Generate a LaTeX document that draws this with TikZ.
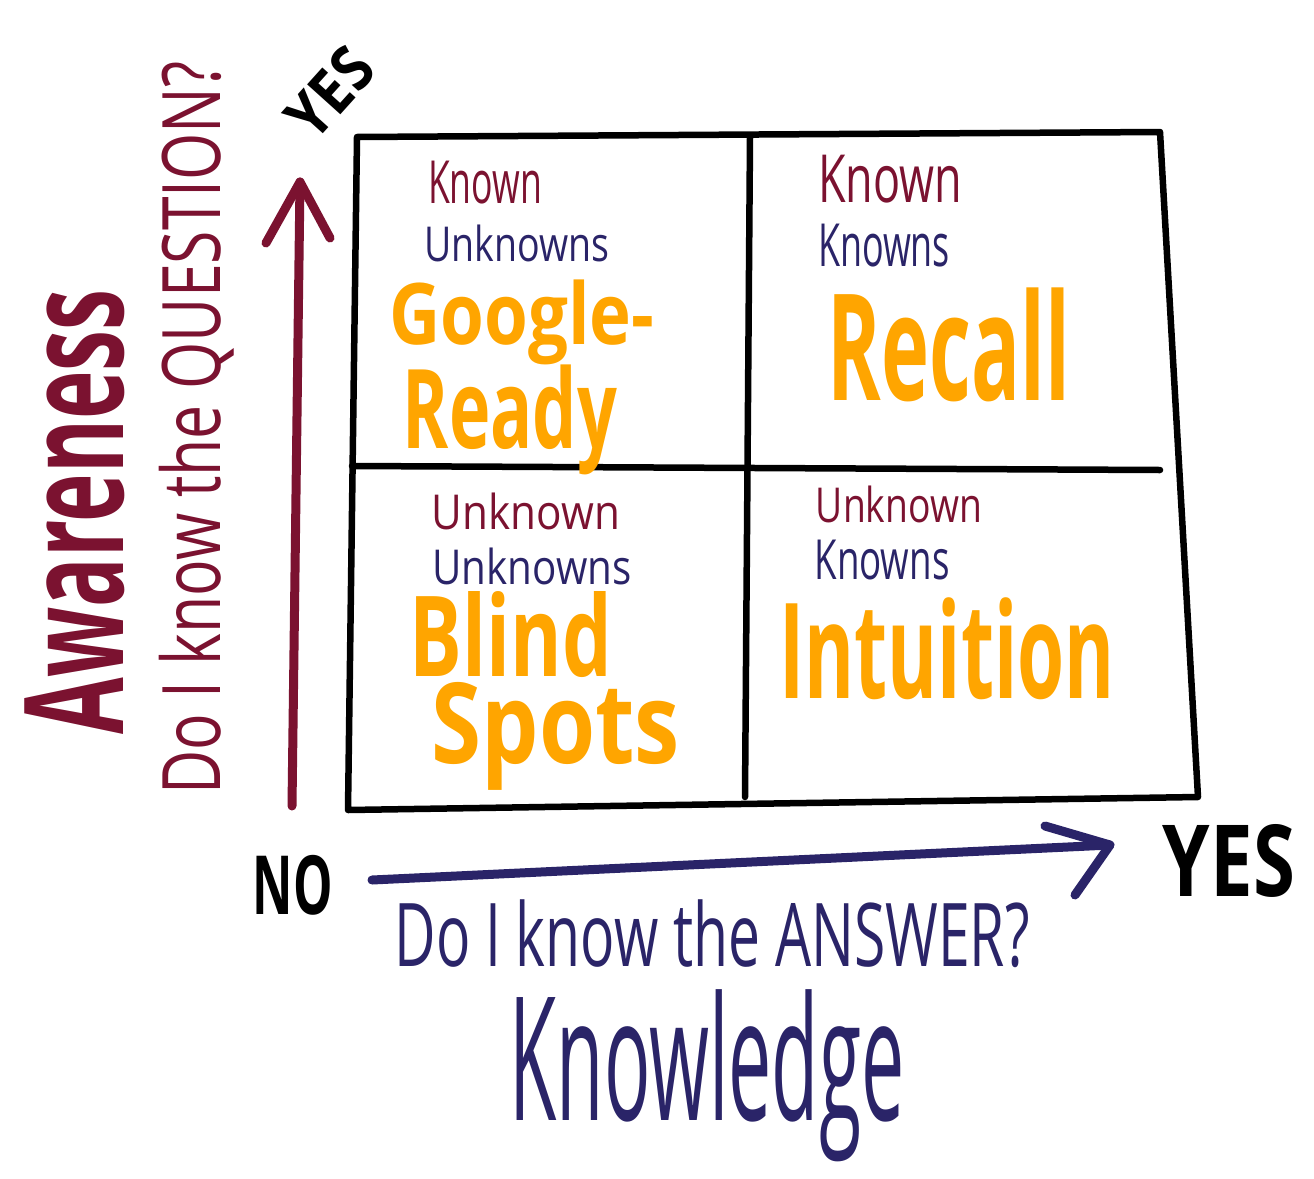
\documentclass[tikz,border=0pt]{standalone}
\usepackage{fontspec}
\setmainfont{Open Sans}
\usepackage{graphicx}
\definecolor{awr}{HTML}{7B1230}
\definecolor{knb}{HTML}{2A2468}
\definecolor{ora}{HTML}{FFA500}
\newcommand{\fb}[3]{\resizebox*{#1pt}{#2pt}{#3}}
\tikzset{
  lbl/.style={inner sep=0pt, anchor=center},
  gridline/.style={line width=6.5pt, line cap=round, line join=round, black},
  axisline/.style={line width=9pt, line cap=round, line join=round},
}
\begin{document}
\begin{tikzpicture}[x=1pt,y=-1pt]
\useasboundingbox (0,0) rectangle (1314,1178);
% grid
\coordinate (tl) at (357,137);
\coordinate (tr) at (1160,132);
\coordinate (br) at (1198,797);
\coordinate (bl) at (348,810);
\coordinate (mt) at (750,137);
\coordinate (mb) at (745,797);
\coordinate (ml) at (352,466);
\coordinate (mr) at (1160,470);
\draw[gridline] (tl) -- (tr) -- (br) -- (bl) -- cycle;
\draw[gridline] (mt) -- (mb);
\draw[gridline] (ml) -- (mr);
% vertical arrow
\coordinate (rbase) at (292,806);
\coordinate (rtip) at (300,182);
\coordinate (rl) at (266,243);
\coordinate (rr) at (330,238);
\draw[axisline, awr] (rbase) -- (rtip);
\draw[axisline, awr] (rl) -- (rtip) -- (rr);
% horizontal arrow
\coordinate (bbase) at (372,880);
\coordinate (btip) at (1110,845);
\coordinate (bu) at (1045,826);
\coordinate (bd) at (1075,895);
\draw[axisline, knb] (bbase) -- (btip);
\draw[axisline, knb] (bu) -- (btip) -- (bd);
% quadrant labels
\node[lbl, awr] (q1known) at (485,183) {\fb{114}{43}{Known}};
\node[lbl, knb] (q1unk) at (517,243) {\fb{185}{37}{Unknowns}};
\node[lbl, ora] (google) at (522,322) {\fb{265}{85}{\bfseries Google-}};
\node[lbl, ora] (ready) at (510,420) {\fb{214}{110}{\bfseries Ready}};
\node[lbl, awr] (q2known) at (890,179) {\fb{144}{48}{Known}};
\node[lbl, knb] (q2knowns) at (884,246) {\fb{132}{43}{Knowns}};
\node[lbl, ora] (recall) at (949,345) {\fb{242}{114}{\bfseries Recall}};
\node[lbl, awr] (q3unknown) at (526,511) {\fb{188}{37}{Unknown}};
\node[lbl, knb] (q3unknowns) at (532,566) {\fb{199}{37}{Unknowns}};
\node[lbl, ora] (blind) at (511,635) {\fb{202}{86}{\bfseries Blind}};
\node[lbl, ora] (spots) at (556,736) {\fb{248}{108}{\bfseries Spots}};
\node[lbl, awr] (q4unknown) at (899,504) {\fb{166}{37}{Unknown}};
\node[lbl, knb] (q4knowns) at (882,560) {\fb{135}{40}{Knowns}};
\node[lbl, ora] (intuition) at (947,649) {\fb{335}{102}{\bfseries Intuition}};
% axis labels
\node[lbl, knb] (answer) at (712,934) {\fb{635}{68}{Do I know the ANSWER?}};
\node[lbl, knb] (knowledge) at (707,1076) {\fb{395}{172}{Knowledge}};
\node[lbl, black] (no) at (293,885) {\fb{80}{60}{\bfseries NO}};
\node[lbl, black] (yesr) at (1229,861) {\fb{132}{73}{\bfseries YES}};
\node[lbl, black, rotate=48] (yest) at (330,93) {\fb{96}{46}{\bfseries YES}};
\node[lbl, awr, rotate=90] (awareness) at (75,512) {\fb{445}{100}{\bfseries Awareness}};
\node[lbl, awr, rotate=90] (question) at (197,428) {\fb{733}{75}{Do I know the QUESTION?}};
\end{tikzpicture}
\end{document}
